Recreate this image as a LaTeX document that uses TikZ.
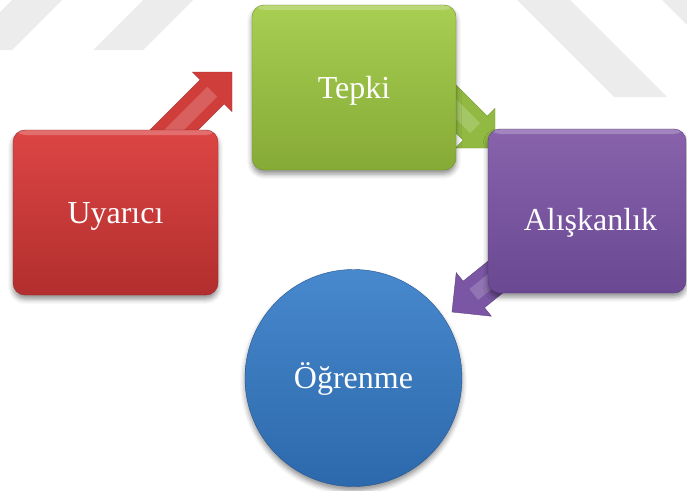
\documentclass[tikz,border=0pt]{standalone}
\usepackage{fontspec}
\setmainfont{Liberation Serif}
\usetikzlibrary{calc,shadows.blur}

\definecolor{redtop}{RGB}{220,70,68}
\definecolor{redbot}{RGB}{178,46,46}
\definecolor{greentop}{RGB}{168,206,82}
\definecolor{greenbot}{RGB}{134,170,54}
\definecolor{purptop}{RGB}{136,99,172}
\definecolor{purpbot}{RGB}{106,72,146}
\definecolor{bluetop}{RGB}{72,136,204}
\definecolor{bluebot}{RGB}{44,104,172}
\definecolor{blueedge}{RGB}{36,86,146}
\definecolor{redarr}{RGB}{208,62,60}
\definecolor{grnarr}{RGB}{146,186,66}
\definecolor{purarr}{RGB}{122,86,164}
\definecolor{bandgray}{RGB}{236,236,236}

\pgfdeclarelayer{arrows}
\pgfsetlayers{arrows,main}

% block arrow from #1 (tail) to #2 (tip): shaft half width 17pt, head 28pt,
% with a lighter band down the middle of the shaft
\newcommand\blockarrow[3]{%
  \coordinate (#2-base) at ($(#2)!28pt!(#1)$);
  \fill[#3, draw=#3!80!black, line width=0.4pt]
    ($(#1)!17pt!90:(#2)$) -- ($(#2-base)!17pt!-90:(#1)$)
    -- ($(#2-base)!28pt!-90:(#1)$) -- (#2) -- ($(#2-base)!28pt!90:(#1)$)
    -- ($(#2-base)!17pt!90:(#1)$) -- ($(#1)!17pt!-90:(#2)$) -- cycle;
  \fill[white, opacity=0.18]
    ($(#1)!7pt!90:(#2)$) -- ($(#2-base)!7pt!-90:(#1)$)
    -- ($(#2-base)!7pt!90:(#1)$) -- ($(#1)!7pt!-90:(#2)$) -- cycle;
}

\begin{document}
\begin{tikzpicture}[x=1pt,y=-1pt,
  card/.style n args={2}{rectangle, rounded corners=12pt,
    top color=#1, bottom color=#2, draw=#2!85!black, line width=0.4pt,
    text=white, font=\fontsize{32}{38}\selectfont,
    text height=21pt, text depth=0pt,
    blur shadow={shadow xshift=0pt, shadow yshift=-4pt,
      shadow blur radius=5pt, shadow opacity=45},
    path picture={\fill[white,opacity=0.22]
      (path picture bounding box.north west) rectangle
      ([yshift=-5pt]path picture bounding box.north east);}},
  band/.style={fill=bandgray},
]
\useasboundingbox (0,0) rectangle (687,490);

% faint diagonal bands across the top
\fill[band] (12,0) -- (62,0) -- (12,50) -- (-38,50) -- cycle;
\fill[band] (143,0) -- (193,0) -- (143,50) -- (93,50) -- cycle;
\fill[band] (517,0) -- (570,0) -- (667,97) -- (614,97) -- cycle;
\fill[band] (662,0) -- (687,0) -- (687,25) -- cycle;

% boxes
\node[card={redtop}{redbot},
  minimum width=205pt, minimum height=165pt] (uyarici) at (115.5,212.5) {Uyarıcı};
\node[card={greentop}{greenbot},
  minimum width=204pt, minimum height=165pt] (tepki) at (354,87.5) {Tepki};
\node[card={purptop}{purpbot},
  minimum width=198pt, minimum height=164pt, text height=38pt] (aliskanlik) at (587,211) {\kern7pt Alışkanlık};
\node[circle, minimum size=217pt, top color=bluetop,
  bottom color=bluebot, draw=blueedge, line width=0.4pt,
  text=white, font=\fontsize{32}{38}\selectfont, text height=21pt, text depth=0pt,
  blur shadow={shadow xshift=0pt, shadow yshift=-4pt, shadow blur radius=5pt, shadow opacity=45}]
  (ogrenme) at (353.5,378) {Öğrenme};

% connecting block arrows, behind the boxes
\coordinate (r0) at ($(uyarici.center)+(26.5,-50.5)$);
\coordinate (r1) at (232,72);
\coordinate (g0) at ($(tepki.center)+(81,0.5)$);
\coordinate (g1) at (495,148);
\coordinate (p0) at ($(aliskanlik.center)+(-73,51)$);
\coordinate (p1) at (452,312);
\begin{pgfonlayer}{arrows}
  \blockarrow{r0}{r1}{redarr}
  \blockarrow{g0}{g1}{grnarr}
  \blockarrow{p0}{p1}{purarr}
\end{pgfonlayer}
\end{tikzpicture}
\end{document}
